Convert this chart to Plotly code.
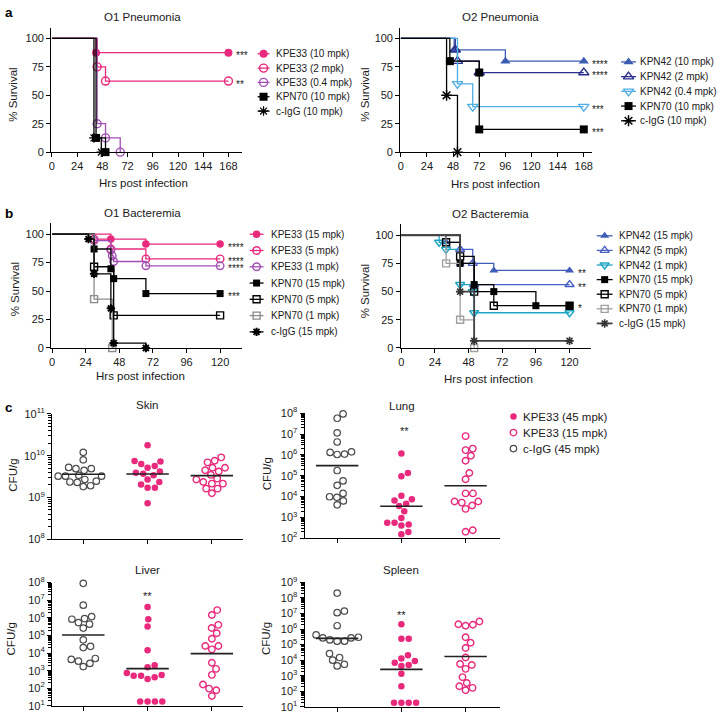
import numpy as np
import plotly.graph_objects as go

W, H = 725, 720
FONT = "Liberation Sans, Arial, Helvetica, sans-serif"
TXT = "#1a1a1a"

PINK = "#e9297c"
PURPLE = "#a24fb5"
BLUE = "#3d5db5"
NAVY = "#2a2e8c"
LBLUE = "#4faee3"
CYAN = "#1fa5c6"
GREY = "#a0a0a0"

# ---------------- survival data (hrs post infection, % survival) ----------------
o1p_names = ["KPE33 (10 mpk)", "KPE33 (2 mpk)", "KPE33 (0.4 mpk)", "KPN70 (10 mpk)", "c-IgG (10 mpk)"]
o1p_t = [[0, 42, 168], [0, 43, 51, 168], [0, 43, 51, 65], [0, 42, 51], [0, 40, 47]]
o1p_s = [[100, 87.5, 87.5], [100, 75, 62.5, 62.5], [100, 25, 12.5, 0], [100, 12.5, 0], [100, 12.5, 0]]
o1p_stars = [(87.5, "***"), (62.5, "**")]

o2p_names = ["KPN42 (10 mpk)", "KPN42 (2 mpk)", "KPN42 (0.4 mpk)", "KPN70 (10 mpk)", "c-IgG (10 mpk)"]
o2p_t = [[0, 49, 96, 168], [0, 50, 52, 72, 168], [0, 52, 66, 168], [0, 45, 72, 72, 168], [0, 42, 52]]
o2p_s = [[100, 90, 80, 80], [100, 90, 80, 70, 70], [100, 60, 40, 40], [100, 80, 70, 20, 20], [100, 50, 0]]
o2p_stars = [(80, "****"), (70, "****"), (40, "***"), (20, "***")]

o1b_names = ["KPE33 (15 mpk)", "KPE33 (5 mpk)", "KPE33 (1 mpk)", "KPN70 (15 mpk)",
             "KPN70 (5 mpk)", "KPN70 (1 mpk)", "c-IgG (15 mpk)"]
o1b_t = [[0, 42, 67, 120], [0, 30, 42, 67, 120], [0, 30, 42, 43, 44, 67, 120],
         [0, 30, 42, 44, 67, 120], [0, 30, 44, 120], [0, 30, 43], [0, 26, 30, 42, 44, 67]]
o1b_s = [[100, 95.7, 91.3, 91.3], [100, 95.7, 87, 78.3, 78.3], [100, 94.4, 86, 81, 76, 72.2, 72.2],
         [100, 87, 69.6, 60.9, 47.8, 47.8], [100, 71.4, 28.6, 28.6], [100, 42.9, 0],
         [100, 95.7, 65.2, 34.8, 4.3, 0]]
o1b_stars = [(91.3, "****"), (78.3, "****"), (72.2, "****"), (47.8, "***")]

o2b_names = ["KPN42 (15 mpk)", "KPN42 (5 mpk)", "KPN42 (1 mpk)", "KPN70 (15 mpk)",
             "KPN70 (5 mpk)", "KPN70 (1 mpk)", "c-IgG (15 mpk)"]
o2b_t = [[0, 32, 42, 66, 120], [0, 42, 51, 52, 120], [0, 27, 32, 42, 51, 52, 120],
         [0, 42, 52, 66, 96, 120], [0, 32, 42, 52, 66, 120], [0, 32, 42, 52], [0, 42, 52, 120]]
o2b_s = [[100, 93.75, 75, 68.75, 68.75], [100, 87.5, 75, 56.25, 56.25],
         [100, 93.75, 87.5, 56.25, 50, 31.25, 31.25], [100, 75, 56.25, 50, 37.5, 37.5],
         [100, 93.75, 81.25, 50, 37.5, 37.5], [100, 75, 25, 0], [100, 50, 6.25, 6.25]]
o2b_stars = [(68.75, "**"), (56.25, "**"), (37.5, "*")]

# ---------------- bacterial burden (log10 CFU/g) ----------------
# column order: c-IgG (45 mpk), KPE33 (45 mpk), KPE33 (15 mpk)
skin_igg = [10.08, 9.90, 9.72, 9.69, 9.69, 9.65, 9.53, 9.51, 9.51, 9.51, 9.43, 9.39, 9.37, 9.36, 9.28, 9.26]
skin_kpe45 = [10.25, 9.87, 9.86, 9.80, 9.75, 9.71, 9.62, 9.59, 9.57, 9.53, 9.43, 9.37, 9.31, 9.23, 9.23, 8.86]
skin_kpe15 = [9.96, 9.88, 9.84, 9.71, 9.71, 9.65, 9.62, 9.54, 9.45, 9.43, 9.37, 9.33, 9.33, 9.21, 9.21, 9.10]
lung_igg = [7.97, 7.76, 7.06, 6.62, 6.15, 6.12, 6.04, 6.02, 5.25, 4.75, 4.54, 4.15, 3.99, 3.96, 3.79, 3.60]
lung_kpe45 = [6.07, 5.13, 4.97, 4.04, 3.87, 3.81, 3.65, 3.54, 3.29, 2.97, 2.74, 2.74, 2.66, 2.61, 2.30, 2.19]
lung_kpe15 = [6.90, 6.30, 6.23, 5.96, 5.72, 5.13, 4.83, 4.15, 4.15, 3.76, 3.76, 3.71, 3.57, 3.41, 2.38, 2.31]
liver_igg = [7.96, 6.72, 6.07, 5.96, 5.92, 5.73, 5.64, 5.42, 4.75, 4.38, 4.31, 3.69, 3.64, 3.54, 3.41, 3.23]
liver_kpe45 = [6.61, 5.92, 5.51, 4.16, 3.30, 3.19, 2.86, 2.76, 2.71, 2.71, 2.63, 2.52, 1.25, 1.25, 1.25, 1.25]
liver_kpe15 = [6.44, 6.16, 5.60, 5.42, 5.12, 4.81, 4.40, 4.40, 4.21, 3.45, 3.10, 2.76, 2.21, 1.98, 1.89, 1.56]
spleen_igg = [8.31, 7.15, 7.05, 6.21, 5.62, 5.47, 5.43, 5.43, 5.30, 5.22, 5.22, 4.42, 4.17, 4.00, 3.73, 3.63]
spleen_kpe45 = [6.31, 5.37, 5.37, 4.32, 4.11, 3.94, 3.83, 3.69, 3.63, 3.12, 2.32, 1.27, 1.27, 1.27, 1.27]
spleen_kpe15 = [6.48, 6.31, 6.27, 6.21, 5.47, 5.12, 4.78, 4.17, 3.75, 3.69, 3.44, 2.91, 2.53, 2.32, 2.22, 2.07]
cfu_legend = ["KPE33 (45 mpk)", "KPE33 (15 mpk)", "c-IgG (45 mpk)"]


def fx(x):
    return x / W


def fy(y):
    return 1 - y / H


def mk(symbol, color, size=8, lw=1.4):
    filled = not symbol.endswith("-open")
    return dict(symbol=symbol, color=color, size=size,
                line=dict(color=color, width=0 if filled else lw))


# styles for each series (marker, line colour, line width)
o1p_sty = [(mk("circle", PINK), PINK, 1.3), (mk("circle-open", PINK), PINK, 1.3),
           (mk("circle-open", PURPLE), PURPLE, 1.3), (mk("square", "black"), "black", 1.3),
           (mk("asterisk-open", "black", 8, 1.2), "black", 1.3)]
o2p_sty = [(mk("triangle-up", BLUE, 9), BLUE, 1.3), (mk("triangle-up-open", NAVY, 9), NAVY, 1.3),
           (mk("triangle-down-open", LBLUE, 9), LBLUE, 1.3), (mk("square", "black"), "black", 1.3),
           (mk("asterisk-open", "black", 9, 1.5), "black", 1.3)]
o1b_sty = [(mk("circle", PINK, 7.5), PINK, 1.3), (mk("circle-open", PINK, 7.5), PINK, 1.3),
           (mk("circle-open", PURPLE, 7.5), PURPLE, 1.3), (mk("square", "black", 7), "black", 1.3),
           (mk("square-open", "black", 7), "black", 1.3), (mk("square-open", "#8c8c8c", 7), "#8c8c8c", 1.3),
           (mk("asterisk-open", "black", 7, 2), "black", 1.3)]
o2b_sty = [(mk("triangle-up", "#3f5cb8", 8), "#3f5cb8", 1.3),
           (mk("triangle-up-open", "#4a5fc4", 8), "#4a5fc4", 1.3),
           (mk("triangle-down-open", CYAN, 8), CYAN, 1.3), (mk("square", "black", 7), "black", 1.3),
           (mk("square-open", "black", 7), "black", 1.3), (mk("square-open", GREY, 7), GREY, 1.3),
           (mk("asterisk-open", "#333333", 7, 1.6), "#444444", 1.8)]

fig = go.Figure()
layout = {}
annos = []


def txt(x, y, s, size=11.5, xanchor="center", angle=0):
    annos.append(dict(x=fx(x), y=fy(y), xref="paper", yref="paper", text=s, showarrow=False,
                      xanchor=xanchor, yanchor="middle", textangle=angle,
                      font=dict(family=FONT, size=size, color=TXT)))


def axis_base(**kw):
    d = dict(showline=True, linecolor="black", linewidth=1.2, ticks="outside", ticklen=4,
             tickwidth=1.2, tickcolor="black", showgrid=False, zeroline=False, fixedrange=True,
             tickfont=dict(family=FONT, size=11, color=TXT))
    d.update(kw)
    return d


def set_axes(n, box, xr, yr, xkw, ykw):
    l, r, t, b = box
    xs = "xaxis" if n == 1 else f"xaxis{n}"
    ys = "yaxis" if n == 1 else f"yaxis{n}"
    ref = "" if n == 1 else str(n)
    layout[xs] = axis_base(domain=[fx(l), fx(r)], range=xr, anchor="y" + ref, **xkw)
    layout[ys] = axis_base(domain=[fy(b), fy(t)], range=yr, anchor="x" + ref, **ykw)
    return "x" + ref, "y" + ref


def km_panel(n, box, xr, yr, xmax, names, ts, ss, sty, stars, leg):
    xa, ya = set_axes(n, box, xr, yr,
                      dict(tickvals=list(range(0, xmax + 1, 24))),
                      dict(tickvals=[0, 25, 50, 75, 100]))
    for t, s, (m, lc, lw) in zip(ts, ss, sty):
        fig.add_trace(go.Scatter(x=t, y=s, mode="lines", line=dict(shape="hv", color=lc, width=lw),
                                 xaxis=xa, yaxis=ya, showlegend=False, cliponaxis=False, hoverinfo="skip"))
        fig.add_trace(go.Scatter(x=t[1:], y=s[1:], mode="markers", marker=m,
                                 xaxis=xa, yaxis=ya, showlegend=False, cliponaxis=False, hoverinfo="skip"))
    for lev, st in stars:
        annos.append(dict(x=xmax, y=lev, xref=xa, yref=ya, text=st, showarrow=False, xanchor="left",
                          yanchor="middle", xshift=6, yshift=-3,
                          font=dict(family=FONT, size=10, color=TXT)))
    # hand drawn legend (pixel coordinates on the overlay axes)
    lx0, lx1, mx, tx, y0, dy = leg
    for i, (name, (m, lc, lw)) in enumerate(zip(names, sty)):
        y = y0 + i * dy
        fig.add_trace(go.Scatter(x=[lx0, lx1], y=[y, y], mode="lines", line=dict(color=lc, width=lw),
                                 xaxis="x9", yaxis="y9", showlegend=False, hoverinfo="skip"))
        fig.add_trace(go.Scatter(x=[mx], y=[y], mode="markers", marker=m,
                                 xaxis="x9", yaxis="y9", showlegend=False, hoverinfo="skip"))
        txt(tx, y, name, size=10, xanchor="left")


km_panel(1, (48.5, 240, 20, 147), [-0.66, 180.6], [0, 109.5], 168,
         o1p_names, o1p_t, o1p_s, o1p_sty, o1p_stars, (256, 268, 262, 272.5, 46.7, 14.6))
km_panel(2, (399.5, 592, 20, 147), [-0.5, 175.3], [0, 109.5], 168,
         o2p_names, o2p_t, o2p_s, o2p_sty, o2p_stars, (621.5, 636.5, 629, 638.5, 55, 15))
km_panel(3, (48.5, 240, 219.3, 346.7), [-0.6, 135.4], [0, 109.8], 120,
         o1b_names, o1b_t, o1b_s, o1b_sty, o1b_stars, (248, 262, 255, 267.5, 230.7, 16.6))
km_panel(4, (400, 591.7, 220.7, 346.7), [-0.3, 135.6], [0, 109.6], 120,
         o2b_names, o2b_t, o2b_s, o2b_sty, o2b_stars, (597, 613, 605, 617.5, 232.3, 14.9))


def swarm(vals, px_dec, px_cat, d=7.4):
    y = np.asarray(vals) * px_dec
    offs = np.zeros(len(y))
    placed = []
    for i in np.argsort(y):
        cands = [0.0]
        for xj, yj in placed:
            dy = y[i] - yj
            if abs(dy) < d:
                dx = np.sqrt(d * d - dy * dy)
                cands += [xj + dx, xj - dx]
        cands.sort(key=abs)
        for c in cands:
            if all((c - xj) ** 2 + (y[i] - yj) ** 2 >= d * d - 1e-6 for xj, yj in placed):
                break
        placed.append((c, y[i]))
        offs[i] = c / px_cat
    return offs


cfu_sty = [mk("circle-open", "#4d4d4d", 6.5, 1.2), mk("circle", PINK, 6.5), mk("circle-open", PINK, 6.5, 1.4)]


def cfu_panel(n, box, xr, lo, hi, groups):
    l, r, t, b = box
    majors = [10.0 ** k for k in range(lo, hi + 1)]
    minors = [m * 10.0 ** k for k in range(lo, hi) for m in range(2, 10)]
    xa, ya = set_axes(n, box, xr, [lo, hi],
                      dict(tickvals=[0, 1, 2], showticklabels=False),
                      dict(type="log", tickvals=majors,
                           ticktext=[f"10<sup>{k}</sup>" for k in range(lo, hi + 1)],
                           minor=dict(tickvals=minors, ticks="outside", ticklen=2.5,
                                      tickwidth=1, tickcolor="black", showgrid=False)))
    px_dec = (b - t) / (hi - lo)
    px_cat = (r - l) / (xr[1] - xr[0])
    for i, (vals, m) in enumerate(zip(groups, cfu_sty)):
        off = swarm(vals, px_dec, px_cat)
        fig.add_trace(go.Scatter(x=i + off, y=np.power(10.0, vals), mode="markers", marker=m,
                                 xaxis=xa, yaxis=ya, showlegend=False, cliponaxis=False, hoverinfo="skip"))
        gm = np.power(10.0, np.mean(vals))
        fig.add_trace(go.Scatter(x=[i - 0.33, i + 0.33], y=[gm, gm], mode="lines",
                                 line=dict(color="#222222", width=1.6),
                                 xaxis=xa, yaxis=ya, showlegend=False, hoverinfo="skip"))


cfu_panel(5, (49.3, 241.7, 414, 541.7), [-0.486, 2.49], 8, 11, [skin_igg, skin_kpe45, skin_kpe15])
cfu_panel(6, (303.3, 500, 413.3, 540.7), [-0.507, 2.54], 2, 8, [lung_igg, lung_kpe45, lung_kpe15])
cfu_panel(7, (49.3, 241.7, 586, 711.7), [-0.486, 2.49], 1, 8, [liver_igg, liver_kpe45, liver_kpe15])
cfu_panel(8, (303.3, 500, 585.7, 712.7), [-0.507, 2.54], 1, 9, [spleen_igg, spleen_kpe45, spleen_kpe15])

# legend for panel c
for i, (name, m) in enumerate(zip(cfu_legend, [cfu_sty[1], cfu_sty[2], cfu_sty[0]])):
    y = 416.7 + i * 16.3
    fig.add_trace(go.Scatter(x=[513.3], y=[y], mode="markers", marker=m,
                             xaxis="x9", yaxis="y9", showlegend=False, hoverinfo="skip"))
    txt(520.5, y, name, size=11.5, xanchor="left")

# overlay axes in pixel units for the hand drawn legends
layout["xaxis9"] = dict(domain=[0, 1], range=[0, W], visible=False, fixedrange=True, anchor="y9")
layout["yaxis9"] = dict(domain=[0, 1], range=[H, 0], visible=False, fixedrange=True, anchor="x9")

# titles, axis labels, panel letters
for x, y, s in [(140, 9, "O1 Pneumonia"), (500, 9, "O2 Pneumonia"),
                (140, 209.5, "O1 Bacteremia"), (490, 210.5, "O2 Bacteremia"),
                (145, 405, "Skin"), (401.5, 406, "Lung"), (145, 573.5, "Liver"), (400, 573.5, "Spleen")]:
    txt(x, y, s, size=11.5)
for x, y in [(141, 178.5), (495, 179.5), (138, 375.5), (488, 378)]:
    txt(x, y, "Hrs post infection", size=11.5)
for x, y in [(10, 88.5), (364, 88.5), (12, 287), (364, 289)]:
    txt(x, y, "% Survival", size=11.5, angle=-90)
for x, y in [(10, 476), (265, 475), (9, 643), (265, 643)]:
    txt(x, y, "CFU/g", size=11.5, angle=-90)
for x, y, s in [(403.3, 431, "**"), (145.7, 599.5, "**"), (400.7, 619.5, "**")]:
    txt(x, y, s, size=11)
for y, s in [(5, "a"), (210, "b"), (407, "c")]:
    annos.append(dict(x=0, y=fy(y), xref="paper", yref="paper", text=f"<b>{s}</b>", showarrow=False,
                      xanchor="left", yanchor="middle", font=dict(family=FONT, size=13.5, color="black")))

fig.update_layout(width=W, height=H, margin=dict(l=0, r=0, t=0, b=0),
                  paper_bgcolor="white", plot_bgcolor="rgba(0,0,0,0)",
                  showlegend=False, annotations=annos, **layout)
# the page's default 8px body margin would push the figure off the window
fig.write_html("out.html", config={"displayModeBar": False},
               post_script="document.body.style.margin='0px';")
